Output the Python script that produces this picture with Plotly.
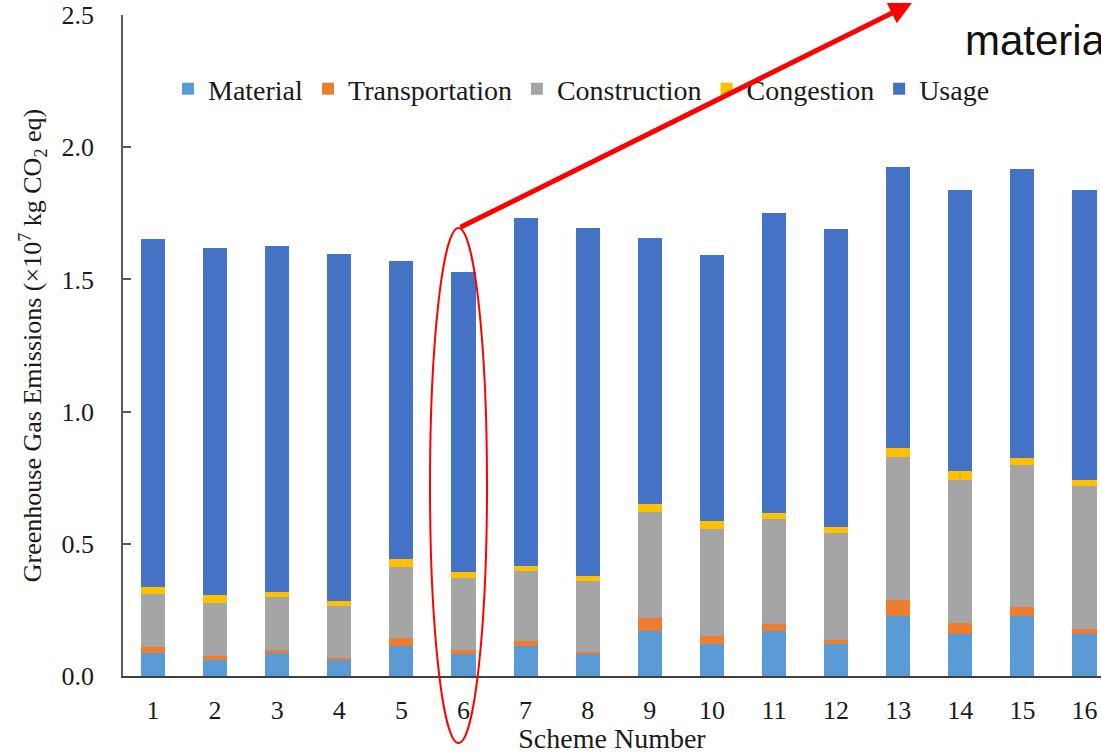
import plotly.graph_objects as go

# Greenhouse gas emissions per scheme, stacked by life-cycle stage (x10^7 kg CO2 eq)
schemes = list(range(1, 17))
scheme_labels = [str(s) for s in schemes]

material = [0.086, 0.061, 0.086, 0.059, 0.114, 0.082, 0.115, 0.082,
            0.170, 0.121, 0.170, 0.120, 0.228, 0.158, 0.228, 0.158]
transportation = [0.023, 0.016, 0.012, 0.009, 0.029, 0.018, 0.016, 0.008,
                  0.048, 0.032, 0.027, 0.018, 0.061, 0.044, 0.033, 0.021]
construction = [0.202, 0.201, 0.201, 0.198, 0.270, 0.270, 0.267, 0.270,
                0.404, 0.403, 0.397, 0.402, 0.539, 0.539, 0.536, 0.541]
congestion = [0.027, 0.028, 0.019, 0.019, 0.029, 0.024, 0.019, 0.018,
              0.028, 0.029, 0.022, 0.022, 0.034, 0.034, 0.026, 0.021]
usage = [1.314, 1.313, 1.307, 1.312, 1.127, 1.134, 1.316, 1.318,
         1.008, 1.007, 1.134, 1.127, 1.062, 1.062, 1.095, 1.096]

y_ticks = [0.0, 0.5, 1.0, 1.5, 2.0, 2.5]

series = [
    ("Material", material, "#5B9BD5"),
    ("Transportation", transportation, "#ED7D31"),
    ("Construction", construction, "#A5A5A5"),
    ("Congestion", congestion, "#FFC000"),
    ("Usage", usage, "#4472C4"),
]

SERIF = "Liberation Serif, Times New Roman, serif"
INK = "#1a1a1a"

fig = go.Figure()
for name, vals, color in series:
    fig.add_trace(go.Bar(
        x=schemes, y=vals, name=name, width=0.387,
        marker=dict(color=color, line=dict(width=0)),
    ))

fig.update_layout(
    barmode="stack",
    width=1101, height=754,
    margin=dict(l=123, r=0, t=15, b=78),
    paper_bgcolor="white", plot_bgcolor="white",
    font=dict(family=SERIF, size=26, color=INK),
    showlegend=True,
    legend=dict(
        orientation="h", x=0.046, xanchor="left", y=0.888, yanchor="middle",
        font=dict(family=SERIF, size=28, color=INK),
        itemwidth=30, bgcolor="rgba(0,0,0,0)", traceorder="normal",
    ),
    xaxis=dict(
        range=[0.517, 16.266], tickmode="array", tickvals=schemes,
        ticktext=scheme_labels, showgrid=False, zeroline=False,
        showline=True, linecolor="#404040", linewidth=2, ticks="",
        ticklabelstandoff=10, automargin=False,
        tickfont=dict(family=SERIF, size=26, color=INK),
        title=dict(text="Scheme Number", standoff=14,
                   font=dict(family=SERIF, size=28, color=INK)),
    ),
    yaxis=dict(
        range=[0, 2.5], tickmode="array", tickvals=y_ticks,
        ticktext=[f"{v:.1f}" for v in y_ticks], showgrid=False,
        zeroline=False, showline=True, linecolor="#595959", linewidth=1.5,
        ticks="inside", ticklen=8, tickcolor="#595959", tickwidth=1.5,
        ticklabelstandoff=22, automargin=False,
        tickfont=dict(family=SERIF, size=26, color=INK),
        title=dict(text="Greenhouse Gas Emissions (×10<sup>7</sup> kg CO<sub>2</sub> eq)",
                   standoff=12, font=dict(family=SERIF, size=26, color=INK)),
    ),
)

# Highlight ring around scheme 6 (paper coordinates so it can run below the axis)
fig.add_shape(
    type="circle", xref="paper", yref="paper",
    x0=0.3139, x1=0.3722, y0=-0.1014, y1=0.6778,
    line=dict(color="#FF0000", width=2), fillcolor="rgba(0,0,0,0)", layer="above",
)

# Callout arrow from the top of the ring to the note at upper right
fig.add_annotation(
    xref="paper", yref="paper", x=0.8067, y=1.018,
    ax=-453, ay=225, axref="pixel", ayref="pixel",
    text="", showarrow=True, arrowhead=2, arrowsize=0.9,
    arrowwidth=5, arrowcolor="#FF0000",
)

fig.add_annotation(
    xref="paper", yref="paper", x=(963 - 123) / 978, y=(676 - 56) / 661,
    xanchor="left", yanchor="bottom", yshift=-10,
    text="material", showarrow=False,
    font=dict(family="Liberation Sans, Arial, sans-serif", size=42, color="#111111"),
)

fig.write_html("out.html")
